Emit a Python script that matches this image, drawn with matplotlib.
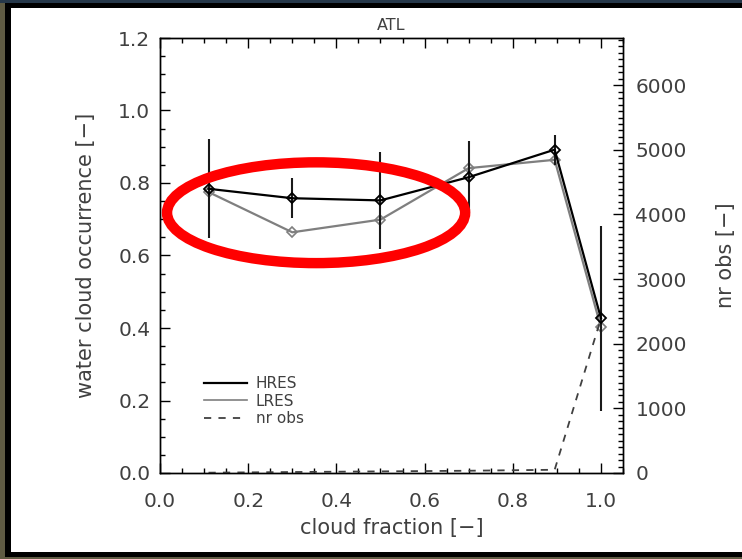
import matplotlib
matplotlib.use("Agg")
import matplotlib.pyplot as plt
from matplotlib.lines import Line2D
from matplotlib.patches import Ellipse, Rectangle
from matplotlib.ticker import MultipleLocator

# bin-mean cloud fraction
cloud_frac = [0.11, 0.30, 0.50, 0.70, 0.895, 1.0]

hres = [0.784, 0.758, 0.752, 0.816, 0.892, 0.427]
hres_err = [0.137, 0.055, 0.134, 0.099, 0.041, 0.255]
lres = [0.775, 0.664, 0.699, 0.841, 0.864, 0.402]
nr_obs = [5, 15, 25, 35, 50, 2390]

TEXT = "#404040"
W, H = 742, 559

plt.rcParams["font.family"] = ["DejaVu Sans"]

fig = plt.figure(figsize=(W / 100, H / 100), dpi=100, facecolor="#5f5b43")

# slide background: dark frame + white panel
for xy, wh, fc in [((0, 1 - 3 / H), (1, 3 / H), "#26384a"),
                   ((5 / W, 2 / H), (1, 1 - 5 / H), "black"),
                   ((11 / W, 7 / H), (1, 1 - 15 / H), "white")]:
    fig.patches.append(Rectangle(xy, *wh, transform=fig.transFigure,
                                 fc=fc, ec="none", zorder=-10))

ax = fig.add_axes([160 / W, 86 / H, 463 / W, 435 / H])
ax.set_facecolor("none")
ax2 = ax.twinx()

ax.set_xlim(0, 1.05)
ax.set_ylim(0, 1.2)
ax2.set_ylim(0, 6730)

ax.plot(cloud_frac, lres, color="#7f7f7f", lw=1.6, marker="D", ms=5,
        mfc="none", mew=1.2, zorder=3)
ax.errorbar(cloud_frac, hres, yerr=hres_err, fmt="none", ecolor="#1a1a1a",
            elinewidth=1.5, capsize=0, zorder=4)
ax.plot(cloud_frac, hres, color="black", lw=1.6, marker="D", ms=5,
        mfc="none", mew=1.3, zorder=5)
ax2.plot(cloud_frac, nr_obs, color="#404040", lw=1.3, ls=(0, (4, 4)))

ax.set_title("ATL", fontsize=11.5, color=TEXT, pad=6)
ax.set_xlabel("cloud fraction [\u2212]", fontsize=15, color=TEXT, labelpad=5)
ax.set_ylabel("water cloud occurrence [\u2212]", fontsize=15, color=TEXT, labelpad=16)
ax2.set_ylabel("nr obs [\u2212]", fontsize=15, color=TEXT, labelpad=21)

ax.xaxis.set_major_locator(MultipleLocator(0.2))
ax.xaxis.set_minor_locator(MultipleLocator(0.05))
ax.yaxis.set_major_locator(MultipleLocator(0.2))
ax.yaxis.set_minor_locator(MultipleLocator(0.05))
ax2.yaxis.set_major_locator(MultipleLocator(1000))
ax2.yaxis.set_minor_locator(MultipleLocator(100))
ax.xaxis.set_major_formatter(lambda v, p: f"{v:.1f}")
ax.yaxis.set_major_formatter(lambda v, p: f"{v:.1f}")

ax.tick_params(axis="x", which="both", direction="in", top=True, pad=14,
               labelsize=14.5, labelcolor=TEXT)
ax.tick_params(axis="y", which="both", direction="in", right=False, pad=7,
               labelsize=14.5, labelcolor=TEXT)
ax2.tick_params(axis="y", which="both", direction="in", pad=9,
                labelsize=14.5, labelcolor=TEXT)
for a in (ax, ax2):
    a.tick_params(which="major", length=7, width=1)
    a.tick_params(which="minor", length=3.5, width=1)
    for sp in a.spines.values():
        sp.set_linewidth(1)

handles = [
    Line2D([], [], color="black", lw=1.6),
    Line2D([], [], color="#7f7f7f", lw=1.2),
    Line2D([], [], color="#404040", lw=1.3, ls=(0, (4, 4))),
]
leg = ax2.legend(handles, ["HRES", "LRES", "nr obs"], loc="upper left",
                 bbox_to_anchor=(0.095, 0.222), frameon=False, fontsize=11,
                 handlelength=2.8, handletextpad=0.6, labelspacing=0.15,
                 borderpad=0, borderaxespad=0)
for t in leg.get_texts():
    t.set_color(TEXT)

# red highlight ellipse
ax2.add_patch(Ellipse((0.354, 0.718 / 1.2 * 6730), 0.676, 0.278 / 1.2 * 6730,
                      fill=False, ec="#ff0000", lw=7.5, clip_on=False, zorder=10))

fig.savefig("out.png", dpi=100, facecolor=fig.get_facecolor())
